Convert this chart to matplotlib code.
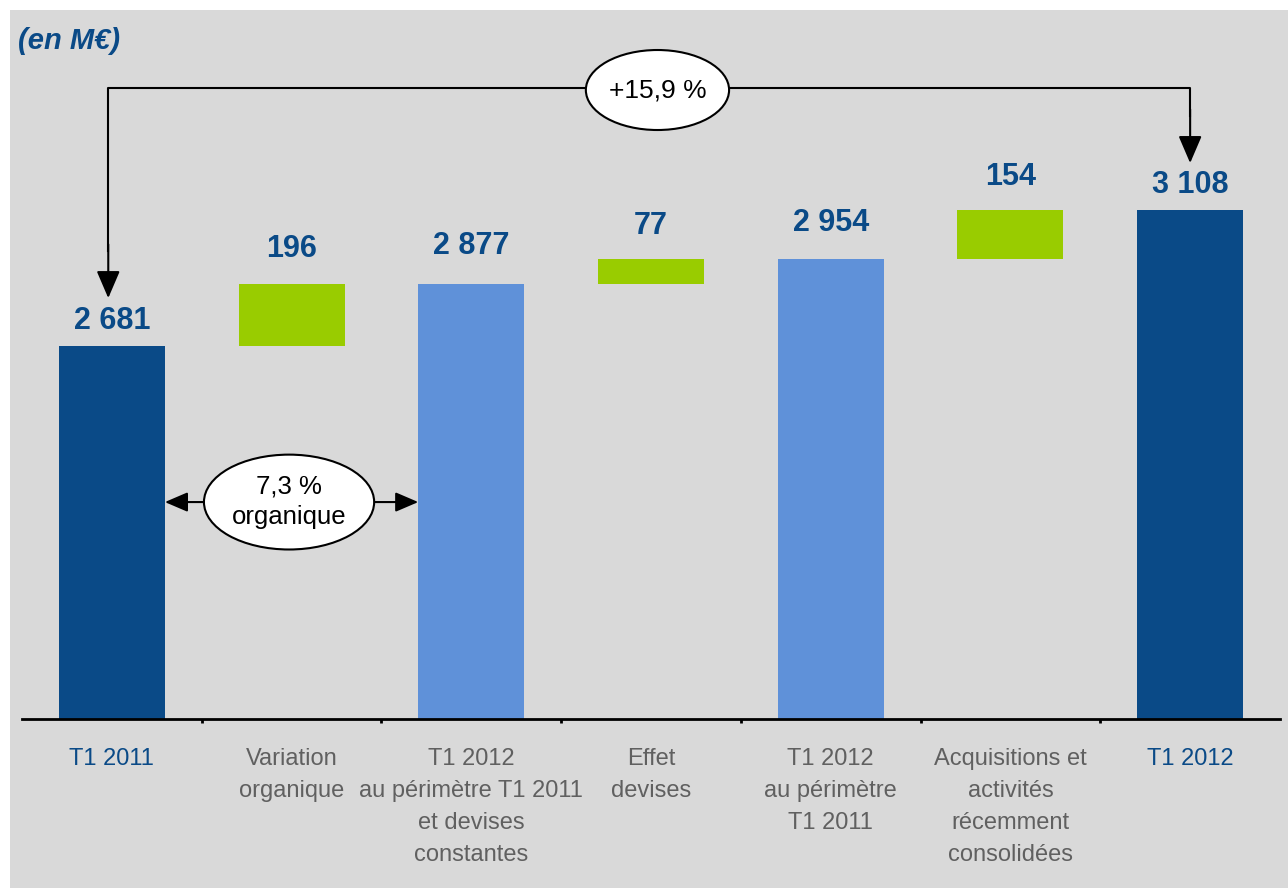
import matplotlib.pyplot as plt
from matplotlib.patches import Ellipse, Rectangle

# données (en M€)
categories = ["T1 2011", "Variation\norganique",
              "T1 2012\nau périmètre T1 2011\net devises\nconstantes",
              "Effet\ndevises", "T1 2012\nau périmètre\nT1 2011",
              "Acquisitions et\nactivités\nrécemment\nconsolidées", "T1 2012"]
values = [2681, 196, 2877, 77, 2954, 154, 3108]
labels = ["2 681", "196", "2 877", "77", "2 954", "154", "3 108"]
kinds = ["total", "delta", "sub", "delta", "sub", "delta", "total"]
growth_total = "+15,9 %"
growth_organic = "7,3 %\norganique"

DARK = "#0a4a87"
LIGHT = "#5f91d9"
GREEN = "#99cc00"
GREY_TXT = "#606060"
BG = "#d9d9d9"
colors = {"total": DARK, "sub": LIGHT, "delta": GREEN}
FONT = ["Liberation Sans", "DejaVu Sans"]

fig = plt.figure(figsize=(12.88, 8.88), dpi=100)
fig.patch.set_facecolor("white")
fig.patches.append(Rectangle((10 / 1288, 0), 1, 1 - 10 / 888, transform=fig.transFigure,
                             fc=BG, ec="none", zorder=-10))

ax = fig.add_axes([22 / 1288, 169 / 888, 1258 / 1288, 709 / 888])
ax.set_facecolor("none")

# barres en cascade
x = list(range(len(values)))
bottoms = []
running = 0
for v, k in zip(values, kinds):
    if k == "delta":
        bottoms.append(running)
        running += v
    else:
        bottoms.append(0)
        running = v
ax.bar(x, values, bottom=bottoms, width=0.59,
       color=[colors[k] for k in kinds], zorder=2)

ax.set_xlim(-0.5, 6.5)
ax.set_ylim(1500, 3742)

# étiquettes de valeurs (écart en pixels au-dessus de la barre)
gaps = [17, 27, 30, 25, 28, 25, 17]
for xi, b, v, lab, gap in zip(x, bottoms, values, labels, gaps):
    ax.annotate(lab, (xi, b + v), xytext=(0, gap * 0.72), textcoords="offset points",
                ha="center", va="baseline", fontsize=22, fontweight="bold",
                color=DARK, family=FONT)

# axes
for s in ["left", "right", "top"]:
    ax.spines[s].set_visible(False)
ax.spines["bottom"].set_linewidth(2)
ax.set_yticks([])
ax.set_xticks(x)
ax.set_xticklabels(categories, fontsize=17, family=FONT)
for lab, k in zip(ax.get_xticklabels(), kinds):
    lab.set_color(DARK if k == "total" else GREY_TXT)
    lab.set_linespacing(1.58)
ax.tick_params(axis="x", which="major", length=0, pad=21)
ax.set_xticks([i + 0.5 for i in range(len(values) - 1)], minor=True)
ax.tick_params(axis="x", which="minor", length=3, width=2, direction="out")

# titre
fig.text(18 / 1288, 1 - 41 / 888, "(en M€)", fontsize=21, fontweight="bold",
         style="italic", color=DARK, va="center", ha="left", family=FONT)

# flèche +15,9 %
top_y = 3496
arrow = "-|>,head_length=1.4,head_width=0.6"
ax.plot([x[0] - 0.02, x[0] - 0.02, x[-1], x[-1]],
        [values[0] + 300, top_y, top_y, values[-1] + 300],
        color="black", lw=1.5, zorder=3, clip_on=False)
for xi, v in [(x[0] - 0.02, values[0]), (x[-1], values[-1])]:
    ax.annotate("", xy=(xi, v + 150), xytext=(xi, v + 320),
                arrowprops=dict(arrowstyle=arrow, color="black", lw=1.5,
                                shrinkA=0, shrinkB=0, mutation_scale=12), zorder=3)
ax.add_patch(Ellipse((3.036, 3489), 0.797, 253, fc="white", ec="black", lw=1.5,
                     zorder=4, clip_on=False))
ax.text(3.036, 3489, growth_total, ha="center", va="center", fontsize=19,
        zorder=5, family=FONT)

# flèche 7,3 % organique
ec_x, ec_y, ew, eh = 0.986, 2186, 0.947, 300
ax.add_patch(Ellipse((ec_x, ec_y), ew, eh, fc="white", ec="black", lw=1.5, zorder=4))
ax.text(ec_x, ec_y, growth_organic, ha="center", va="center", fontsize=18.5,
        linespacing=1.35, zorder=5, family=FONT)
for start, end in [(ec_x - ew / 2, x[0] + 0.295), (ec_x + ew / 2, x[2] - 0.295)]:
    ax.annotate("", xy=(end, ec_y), xytext=(start, ec_y),
                arrowprops=dict(arrowstyle=arrow, color="black", lw=1.5,
                                shrinkA=0, shrinkB=0, mutation_scale=10), zorder=3)

fig.savefig("out.png", dpi=100)
